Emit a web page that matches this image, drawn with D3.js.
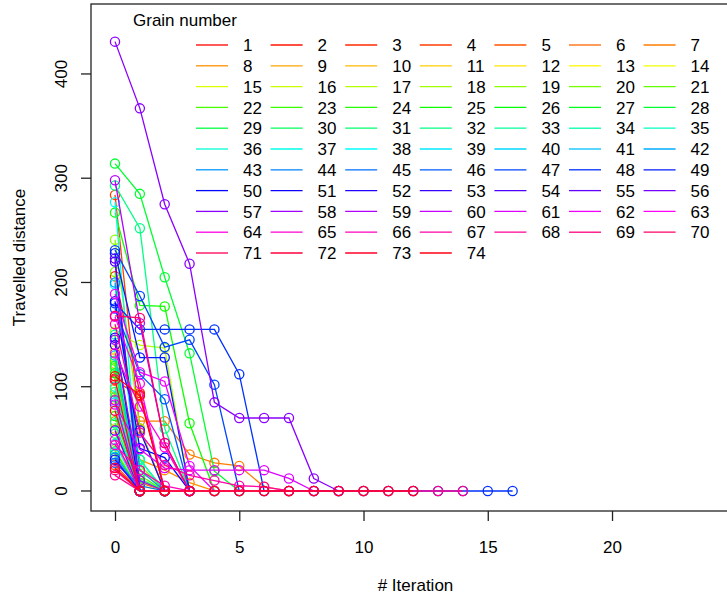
<!DOCTYPE html>
<html>
<head>
<meta charset="utf-8">
<script src="https://cdn.jsdelivr.net/npm/d3@7"></script>
<style>
  body { margin: 0; background: #fff; }
  svg { display: block; font-family: "Liberation Sans", Arial, sans-serif; }
</style>
</head>
<body>
<svg id="chart" width="727" height="597"></svg>
<script>
// grain numbers shown in the legend
const grainNumbers = d3.range(1, 75);

// travelled distance per iteration (index = iteration), one array per grain
const travelled = [
  [108, 0],                                   // 1
  [206, 94, 0],                               // 2
  [106, 91, 0],                               // 3
  [284, 60, 0],                               // 4
  [25, 0],                                    // 5
  [45, 8, 0],                                 // 6
  [67, 67, 67, 35, 27, 24, 4, 0],             // 7
  [88, 30, 20, 8, 0],                         // 8
  [98, 0],                                    // 9
  [122, 10, 0],                               // 10
  [60, 0],                                    // 11
  [135, 0],                                   // 12
  [35, 0],                                    // 13
  [80, 5, 0],                                 // 14
  [110, 0],                                   // 15
  [128, 20, 0],                               // 16
  [153, 140, 137, 0],                         // 17
  [40, 0],                                    // 18
  [241, 60, 0],                               // 19
  [210, 25, 0],                               // 20
  [118, 0],                                   // 21
  [95, 15, 0],                                // 22
  [125, 0],                                   // 23
  [38, 0],                                    // 24
  [267, 178, 177, 65, 0],                     // 25
  [113, 30, 0],                               // 26
  [72, 0],                                    // 27
  [314, 285, 205, 132, 19, 0],                // 28
  [120, 0],                                   // 29
  [55, 12, 0],                                // 30
  [90, 0],                                    // 31
  [293, 252, 60, 0],                          // 32
  [65, 0],                                    // 33
  [150, 0],                                   // 34
  [100, 0],                                   // 35
  [41, 30, 0],                                // 36
  [277, 0],                                   // 37
  [198, 0],                                   // 38
  [45, 0],                                    // 39
  [85, 0],                                    // 40
  [130, 0],                                   // 41
  [35, 0],                                    // 42
  [200, 20, 0],                               // 43
  [32, 0],                                    // 44
  [27, 5, 0],                                 // 45
  [175, 112, 88, 0],                          // 46
  [231, 187, 138, 145, 102, 0],               // 47
  [180, 155, 155, 155, 155, 112, 0, 0, 0, 0, 0, 0, 0, 0, 0, 0, 0], // 48
  [228, 128, 128, 0],                         // 49
  [182, 41, 32, 0],                           // 50
  [147, 0],                                   // 51
  [140, 58, 0],                               // 52
  [30, 0],                                    // 53
  [220, 0],                                   // 54
  [223, 0],                                   // 55
  [58, 0],                                    // 56
  [431, 367, 275, 218, 85, 70, 70, 70, 12, 0],// 57
  [145, 10, 0],                               // 58
  [298, 161, 46, 0],                          // 59
  [87, 0],                                    // 60
  [83, 40, 22, 20, 20, 20, 20, 12, 0],        // 61
  [189, 114, 105, 24, 0],                     // 62
  [167, 103, 0],                              // 63
  [132, 81, 42, 0],                           // 64
  [49, 0],                                    // 65
  [44, 20, 5, 0],                             // 66
  [160, 56, 25, 15, 10, 5, 4, 0],             // 67
  [15, 0, 0, 0, 0, 0, 0, 0, 0, 0, 0, 0, 0, 0, 0], // 68
  [20, 0],                                    // 69
  [168, 166, 46, 0],                          // 70
  [107, 0],                                   // 71
  [77, 0],                                    // 72
  [22, 0, 0, 0, 0, 0, 0, 0, 0, 0, 0, 0, 0],   // 73
  [110, 92, 0]                                // 74
];

const xTicks = [0, 5, 10, 15, 20];
const yTicks = [0, 100, 200, 300, 400];

const svg = d3.select('#chart');
const plotLeft = 91, plotRight = 740, plotTop = 4, plotBottom = 511;

// rainbow palette, like R's rainbow(74)
const color = i => d3.hsl(i / travelled.length * 360, 1, 0.5).toString();

const x = d3.scaleLinear().domain([-0.966, 25.15]).range([plotLeft, plotRight]);
const y = d3.scaleLinear().domain([-19.2, 467.1]).range([plotBottom, plotTop]);

// series
const line = d3.line().x((d, i) => x(i)).y(d => y(d));
travelled.forEach((series, g) => {
    const grp = svg.append('g');
    grp.append('path')
        .attr('d', line(series))
        .attr('fill', 'none')
        .attr('stroke', color(g))
        .attr('stroke-width', 1.3);
    grp.selectAll('circle')
        .data(series)
        .enter()
        .append('circle')
        .attr('cx', (d, i) => x(i))
        .attr('cy', d => y(d))
        .attr('r', 4.6)
        .attr('fill', 'none')
        .attr('stroke', color(g))
        .attr('stroke-width', 1.3);
});

// box
svg.append('rect')
    .attr('x', plotLeft).attr('y', plotTop)
    .attr('width', plotRight - plotLeft).attr('height', plotBottom - plotTop)
    .attr('fill', 'none').attr('stroke', '#222').attr('stroke-width', 1.3);

// x axis
const xAxis = svg.append('g')
    .attr('transform', `translate(0,${plotBottom})`)
    .call(d3.axisBottom(x).tickValues(xTicks).tickSize(10).tickPadding(20));
xAxis.select('.domain').remove();
xAxis.selectAll('line').attr('stroke', '#222').attr('stroke-width', 1.3);
xAxis.selectAll('text').attr('font-size', 17).attr('fill', '#000');
xAxis.attr('font-family', null).attr('font-size', null);

// y axis (R style: labels parallel to axis)
const yAxis = svg.append('g');
yAxis.selectAll('line')
    .data(yTicks)
    .enter()
    .append('line')
    .attr('x1', plotLeft).attr('x2', plotLeft - 10)
    .attr('y1', d => y(d)).attr('y2', d => y(d))
    .attr('stroke', '#222').attr('stroke-width', 1.3);
yAxis.selectAll('text')
    .data(yTicks)
    .enter()
    .append('text')
    .attr('transform', d => `translate(67,${y(d)}) rotate(-90)`)
    .attr('text-anchor', 'middle')
    .attr('font-size', 17)
    .text(d => d);

// axis titles
svg.append('text')
    .attr('x', (plotLeft + plotRight) / 2).attr('y', 591)
    .attr('text-anchor', 'middle')
    .attr('font-size', 17)
    .text('# Iteration');
svg.append('text')
    .attr('transform', `translate(25,${(plotTop + plotBottom) / 2}) rotate(-90)`)
    .attr('text-anchor', 'middle')
    .attr('font-size', 17)
    .text('Travelled distance');

// legend
const legend = svg.append('g');
legend.append('text')
    .attr('x', 133).attr('y', 26)
    .attr('font-size', 17)
    .text('Grain number');

const nCol = 7;
const items = legend.selectAll('.legend-item')
    .data(grainNumbers)
    .enter()
    .append('g')
    .attr('class', 'legend-item')
    .attr('transform', (d, i) => `translate(${196 + (i % nCol) * 74.6},${45 + Math.floor(i / nCol) * 20.8})`);
items.append('line')
    .attr('x1', 0).attr('x2', 32)
    .attr('stroke', (d, i) => color(i))
    .attr('stroke-width', 1.3);
items.append('text')
    .attr('x', 47).attr('dy', '0.36em')
    .attr('font-size', 17)
    .text(d => d);
</script>
</body>
</html>
